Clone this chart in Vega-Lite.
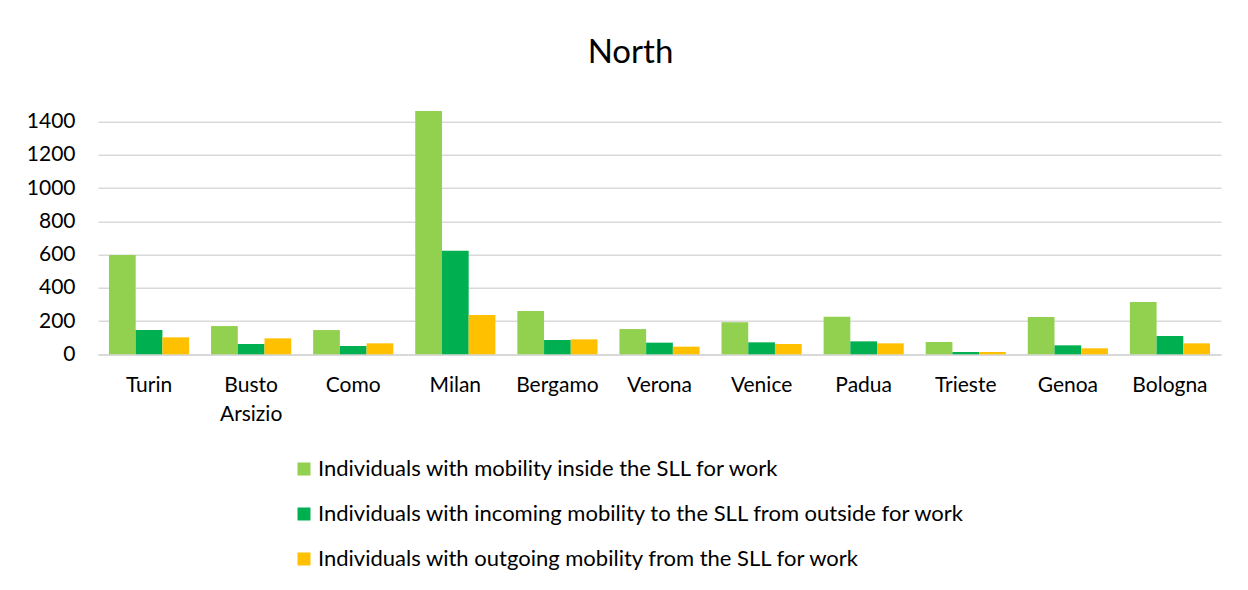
{
  "$schema": "https://vega.github.io/schema/vega-lite/v6.json",
  "width": 1123,
  "height": 232.6,
  "autosize": "none",
  "padding": {"left": 98, "top": 121.7, "right": 27, "bottom": 235.7},
  "background": "white",
  "config": {"view": {"stroke": null}, "font": "Lato"},
  "title": {"text": "North", "fontSize": 33, "fontWeight": "normal", "font": "Lato", "color": "#000000", "anchor": "middle", "frame": "group", "offset": 41, "dx": -29},
  "data": {"values": [
    {"city": "Turin", "series": "Individuals with mobility inside the SLL for work", "value": 597},
    {"city": "Turin", "series": "Individuals with incoming mobility to the SLL from outside for work", "value": 146},
    {"city": "Turin", "series": "Individuals with outgoing mobility from the SLL for work", "value": 102},
    {"city": "Busto Arsizio", "series": "Individuals with mobility inside the SLL for work", "value": 170},
    {"city": "Busto Arsizio", "series": "Individuals with incoming mobility to the SLL from outside for work", "value": 62},
    {"city": "Busto Arsizio", "series": "Individuals with outgoing mobility from the SLL for work", "value": 96},
    {"city": "Como", "series": "Individuals with mobility inside the SLL for work", "value": 146},
    {"city": "Como", "series": "Individuals with incoming mobility to the SLL from outside for work", "value": 50},
    {"city": "Como", "series": "Individuals with outgoing mobility from the SLL for work", "value": 66},
    {"city": "Milan", "series": "Individuals with mobility inside the SLL for work", "value": 1464},
    {"city": "Milan", "series": "Individuals with incoming mobility to the SLL from outside for work", "value": 623},
    {"city": "Milan", "series": "Individuals with outgoing mobility from the SLL for work", "value": 236},
    {"city": "Bergamo", "series": "Individuals with mobility inside the SLL for work", "value": 260},
    {"city": "Bergamo", "series": "Individuals with incoming mobility to the SLL from outside for work", "value": 86},
    {"city": "Bergamo", "series": "Individuals with outgoing mobility from the SLL for work", "value": 90},
    {"city": "Verona", "series": "Individuals with mobility inside the SLL for work", "value": 152},
    {"city": "Verona", "series": "Individuals with incoming mobility to the SLL from outside for work", "value": 70},
    {"city": "Verona", "series": "Individuals with outgoing mobility from the SLL for work", "value": 46},
    {"city": "Venice", "series": "Individuals with mobility inside the SLL for work", "value": 193},
    {"city": "Venice", "series": "Individuals with incoming mobility to the SLL from outside for work", "value": 72},
    {"city": "Venice", "series": "Individuals with outgoing mobility from the SLL for work", "value": 62},
    {"city": "Padua", "series": "Individuals with mobility inside the SLL for work", "value": 226},
    {"city": "Padua", "series": "Individuals with incoming mobility to the SLL from outside for work", "value": 78},
    {"city": "Padua", "series": "Individuals with outgoing mobility from the SLL for work", "value": 66},
    {"city": "Trieste", "series": "Individuals with mobility inside the SLL for work", "value": 74},
    {"city": "Trieste", "series": "Individuals with incoming mobility to the SLL from outside for work", "value": 14},
    {"city": "Trieste", "series": "Individuals with outgoing mobility from the SLL for work", "value": 14},
    {"city": "Genoa", "series": "Individuals with mobility inside the SLL for work", "value": 224},
    {"city": "Genoa", "series": "Individuals with incoming mobility to the SLL from outside for work", "value": 54},
    {"city": "Genoa", "series": "Individuals with outgoing mobility from the SLL for work", "value": 36},
    {"city": "Bologna", "series": "Individuals with mobility inside the SLL for work", "value": 315},
    {"city": "Bologna", "series": "Individuals with incoming mobility to the SLL from outside for work", "value": 110},
    {"city": "Bologna", "series": "Individuals with outgoing mobility from the SLL for work", "value": 66}
  ]},
  "mark": {"type": "bar", "clip": false},
  "encoding": {
    "x": {
      "field": "city", "type": "nominal", "sort": null,
      "scale": {"paddingInner": 0.215, "paddingOuter": 0.1075},
      "axis": {"title": null, "labelAngle": 0, "labelFontSize": 21, "labelColor": "#000000", "labelPadding": 31, "labelLineHeight": 29, "labelBaseline": "middle", "labelExpr": "split(datum.label, ' ')", "ticks": false, "domain": true, "domainColor": "#d9d9d9", "domainWidth": 1.5}
    },
    "y": {
      "field": "value", "type": "quantitative",
      "scale": {"domain": [0, 1400], "nice": false},
      "axis": {"title": null, "values": [0, 200, 400, 600, 800, 1000, 1200, 1400], "format": "d", "labelFontSize": 21, "labelColor": "#000000", "labelPadding": 23, "ticks": false, "domain": false, "gridColor": "#d9d9d9", "gridWidth": 1.5}
    },
    "xOffset": {"field": "series", "type": "nominal", "sort": null, "scale": {"paddingInner": 0, "paddingOuter": 0}},
    "color": {
      "field": "series", "type": "nominal", "sort": null,
      "scale": {"domain": ["Individuals with mobility inside the SLL for work", "Individuals with incoming mobility to the SLL from outside for work", "Individuals with outgoing mobility from the SLL for work"], "range": ["#92D050", "#00B050", "#FFC000"]},
      "legend": {"title": null, "orient": "none", "legendX": 195, "legendY": 336.3, "direction": "vertical", "symbolType": "square", "symbolSize": 169, "symbolStrokeWidth": 0, "symbolOpacity": 1, "labelFontSize": 22, "labelColor": "#000000", "labelLimit": 900, "rowPadding": 23, "labelOffset": 3}
    }
  }
}
